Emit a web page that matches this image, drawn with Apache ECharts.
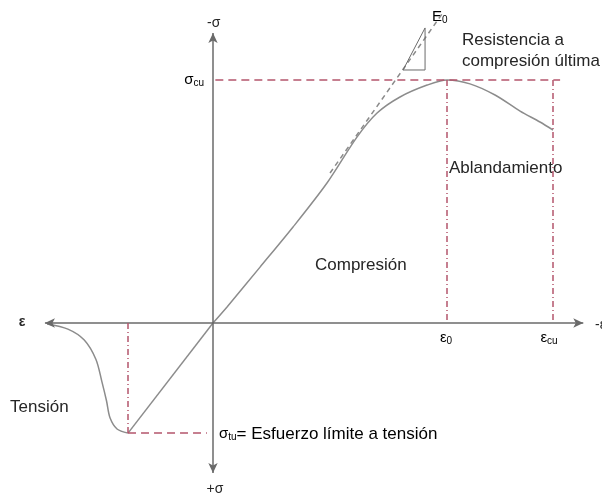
<!DOCTYPE html>
<html>
<head>
<meta charset="utf-8">
<script src="https://cdn.jsdelivr.net/npm/echarts@6/dist/echarts.min.js"></script>
<style>
  html, body { margin: 0; padding: 0; background: #fff; }
  #chart { width: 602px; height: 498px; }
</style>
</head>
<body>
<div id="chart"></div>
<script>
// strain (eps / eps0) and stress (sigma / sigma_cu)
const compStrain = [0, 0.06, 0.201, 0.342, 0.487, 0.615, 0.701, 0.799, 0.915, 1.0, 1.098, 1.205, 1.312, 1.397, 1.453];
const compStress = [0, 0.066, 0.23, 0.395, 0.576, 0.765, 0.864, 0.93, 0.979, 1.0, 0.984, 0.938, 0.872, 0.827, 0.794];
const tensStrain = [-0.363, -0.41, -0.44, -0.455, -0.475, -0.50, -0.55, -0.62, -0.709];
const tensStress = [-0.453, -0.436, -0.39, -0.32, -0.24, -0.15, -0.07, -0.025, -0.004];

// key points
const eps0 = 1.0, epsCu = 1.453, sigmaCu = 1.0;
const epsT = -0.363, sigmaT = -0.453;
// initial tangent (E0) and its slope triangle
const tangentStrain = [0.5, 0.979];
const tangentStress = [0.617, 1.272];
const triStrain = [0.812, 0.906, 0.906, 0.812];
const triStress = [1.041, 1.041, 1.214, 1.041];
// axis extents
const xAxisEnds = [-0.718, 1.582];
const yAxisEnds = [-0.617, 1.193];

const tickLabels = { sigmaCu: 'cu', eps0: '0', epsCu: 'cu', sigmaT: 'tu' };

const chart = echarts.init(document.getElementById('chart'));

const grey = '#8c8c8c';
const red = '#b4566c';
const font = 'Liberation Sans';

const zip = (a, b) => a.map((v, i) => [v, b[i]]);

const txt = (x, y, text, opt) => Object.assign({
  type: 'text', x: x, y: y,
  style: Object.assign({
    text: text, fill: '#262626', font: '17px "' + font + '"',
    textVerticalAlign: 'middle'
  }, opt || {})
});

const rich = {
  m: { fontSize: 15, fontFamily: font, color: '#262626' },
  s: { fontSize: 10, fontFamily: font, color: '#262626', padding: [6, 0, 0, 0] },
  t: { fontSize: 17, fontFamily: font, color: '#262626' }
};

const option = {
  animation: false,
  grid: { left: 0, right: 0, top: 0, bottom: 0 },
  xAxis: { type: 'value', min: -0.91, max: 1.662, show: false },
  yAxis: { type: 'value', min: -0.72, max: 1.329, show: false },
  series: [
    {
      // axes with arrows
      type: 'line', data: [], silent: true,
      markLine: {
        silent: true, symbol: ['arrow', 'arrow'], symbolSize: [7, 10],
        label: { show: false },
        lineStyle: { color: '#6a6a6a', width: 1.5, type: 'solid' },
        data: [
          [{ coord: [xAxisEnds[0], 0] }, { coord: [xAxisEnds[1], 0] }],
          [{ coord: [0, yAxisEnds[0]] }, { coord: [0, yAxisEnds[1]] }]
        ]
      }
    },
    {
      // red guide lines
      type: 'line', data: [], silent: true,
      markLine: {
        silent: true, symbol: ['none', 'none'], label: { show: false },
        lineStyle: { color: red, width: 1.5 },
        data: [
          [{ coord: [0.01, sigmaCu], lineStyle: { type: [8, 5] } }, { coord: [1.483, sigmaCu] }],
          [{ coord: [eps0, sigmaCu], lineStyle: { type: [6, 3, 1, 3] } }, { coord: [eps0, 0] }],
          [{ coord: [epsCu, sigmaCu], lineStyle: { type: [6, 3, 1, 3] } }, { coord: [epsCu, 0] }],
          [{ coord: [epsT, 0], lineStyle: { type: [6, 3, 1, 3] } }, { coord: [epsT, sigmaT] }],
          [{ coord: [epsT, sigmaT], lineStyle: { type: [8, 5] } }, { coord: [-0.026, sigmaT] }]
        ]
      }
    },
    {
      type: 'line', data: zip(compStrain, compStress), smooth: 0.3,
      symbol: 'none', lineStyle: { color: grey, width: 1.5 }
    },
    {
      type: 'line', data: [[0, 0], [epsT, sigmaT]],
      symbol: 'none', lineStyle: { color: grey, width: 1.5 }
    },
    {
      type: 'line', data: zip(tensStrain, tensStress), smooth: 0.3,
      symbol: 'none', lineStyle: { color: grey, width: 1.5 }
    },
    {
      type: 'line', data: zip(tangentStrain, tangentStress),
      symbol: 'none', lineStyle: { color: '#8a8a8a', width: 1.5, type: [5, 4] }
    },
    {
      type: 'line', data: zip(triStrain, triStress),
      symbol: 'none', lineStyle: { color: '#6a6a6a', width: 1 }
    }
  ],
  graphic: [
    txt(207, 23, '-σ', { font: '14px "' + font + '"' }),
    txt(215, 489, '+σ', { font: '14px "' + font + '"', textAlign: 'center' }),
    txt(22, 322, 'ε', { font: 'bold 14px "' + font + '"', textAlign: 'center' }),
    txt(595, 325, '-ε', { font: '14px "' + font + '"' }),
    { type: 'text', x: 204, y: 80, style: { text: '{m|σ}{s|' + tickLabels.sigmaCu + '}', rich: rich, align: 'right', verticalAlign: 'middle' } },
    { type: 'text', x: 446, y: 338, style: { text: '{m|ε}{s|' + tickLabels.eps0 + '}', rich: rich, align: 'center', verticalAlign: 'middle' } },
    { type: 'text', x: 549, y: 338, style: { text: '{m|ε}{s|' + tickLabels.epsCu + '}', rich: rich, align: 'center', verticalAlign: 'middle' } },
    { type: 'text', x: 432, y: 17, style: { text: '{m|E}{s|0}', rich: rich, align: 'left', verticalAlign: 'middle' } },
    { type: 'text', x: 219, y: 434, style: { text: '{m|σ}{s|' + tickLabels.sigmaT + '}{t|= Esfuerzo límite a tensión}', rich: rich, align: 'left', verticalAlign: 'middle' } },
    txt(462, 40, 'Resistencia a'),
    txt(462, 61, 'compresión última'),
    txt(315, 265, 'Compresión'),
    txt(449, 168, 'Ablandamiento'),
    txt(10, 407, 'Tensión')
  ]
};

chart.setOption(option);
</script>
</body>
</html>
